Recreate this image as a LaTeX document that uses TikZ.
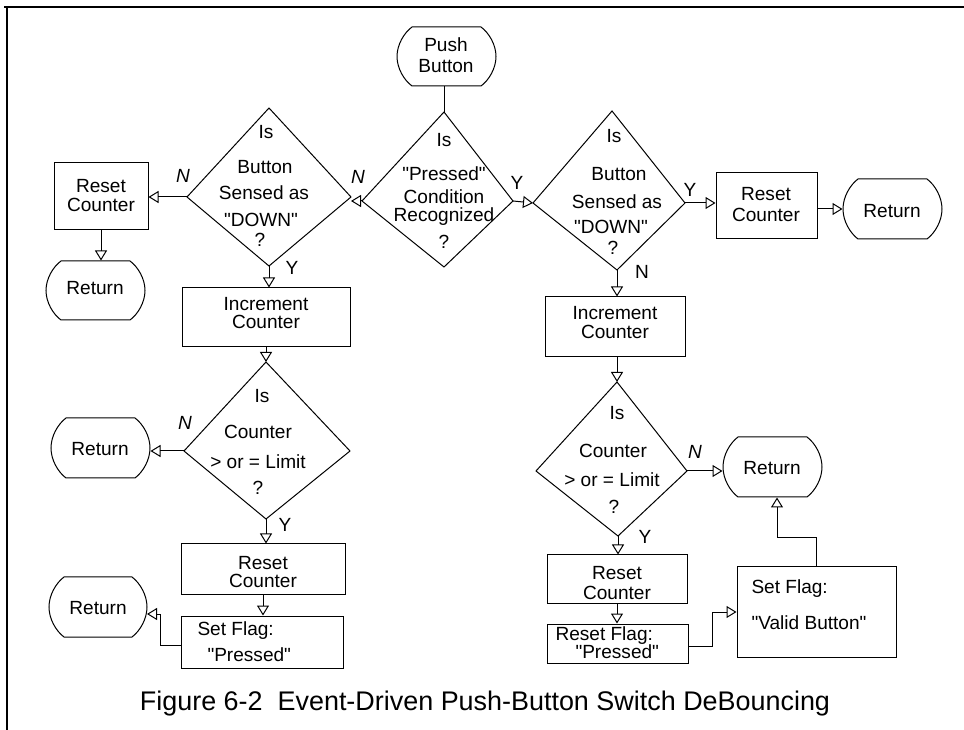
\documentclass[tikz,border=0pt]{standalone}
\usepackage{fontspec}
\setmainfont{Liberation Sans}[Ligatures=TeXOff]
\usetikzlibrary{arrows.meta,fit}
\newcounter{tline}
\newcommand\T[3]{\stepcounter{tline}\node[tl] (txt\arabic{tline}) at (#1,#2) {#3};}
\newcommand\TW[3]{\stepcounter{tline}\node[tl,anchor=west] (txt\arabic{tline}) at (#1,#2) {#3};}
\newcommand\kite[5]{% name, top, right, bottom, left
  \coordinate (#1t) at (#2); \coordinate (#1r) at (#3);
  \coordinate (#1b) at (#4); \coordinate (#1l) at (#5);
  \draw (#1t) -- (#1r) -- (#1b) -- (#1l) -- cycle;}
\newcommand\term[5]{% name, x1, y1, x2, y2
  \node[fit={(#2,#3) (#4,#5)}, inner sep=0pt] (#1) {};
  \draw ({#2+15},#3) -- ({#4-15},#3)
    .. controls ({#4-7},{#3+0.1*(#5-#3)}) and (#4,{#3+0.3*(#5-#3)}) .. (#4,{(#3+#5)/2})
    .. controls (#4,{#5-0.3*(#5-#3)}) and ({#4-7},{#5-0.1*(#5-#3)}) .. ({#4-15},#5)
    -- ({#2+15},#5)
    .. controls ({#2+7},{#5-0.1*(#5-#3)}) and (#2,{#5-0.3*(#5-#3)}) .. (#2,{(#3+#5)/2})
    .. controls (#2,{#3+0.3*(#5-#3)}) and ({#2+7},{#3+0.1*(#5-#3)}) .. ({#2+15},#3) -- cycle;}
\begin{document}
\begin{tikzpicture}[x=0.75pt,y=-0.75pt,line width=0.75pt,
  every node/.style={font=\fontsize{14.3}{17}\selectfont},
  tl/.style={inner sep=0pt,text height=10.2pt,text depth=0pt},
  nlab/.style={tl,font=\fontsize{14.3}{17}\selectfont\itshape},
  box/.style={draw,inner sep=0pt},
  arr/.style={-{Triangle[open,length=7.5pt,width=9pt]}}]
\useasboundingbox (0,0) rectangle (964,730);
% frame
\draw[line width=1.5pt] (4,7) -- (964,7);
\draw[line width=1.1pt] (7,7) -- (7,730);

% terminals
\term{PB}{397}{27}{496}{86}
\T{446}{45}{Push}\T{446}{66}{Button}
\term{RetTL}{46}{261}{145}{320}
\T{95}{288}{Return}
\term{RetTR}{843}{179}{942}{239}
\T{892}{211}{Return}
\term{RetML}{51}{418}{150}{478}
\T{100}{449}{Return}
\term{RetMR}{723}{437}{822}{497}
\T{772}{468}{Return}
\term{RetBL}{49}{577}{147}{637}
\T{98}{608}{Return}

% diamonds
\kite{D0}{444,112}{513,201}{444,267}{362,201}
\T{444}{140}{Is}\T{444}{174}{"Pressed"}\T{444}{197}{Condition}\T{444}{215}{Recognized}\T{444}{242}{?}
\kite{DL1}{269,108}{351,197}{269,266}{187,197}
\T{266}{132}{Is}\T{265}{167}{Button}\T{264}{193}{Sensed as}\T{261}{220}{"DOWN"}\T{260}{240}{?}
\kite{DR1}{612,111}{685,203}{617,270}{533,203}
\T{614}{136}{Is}\T{619}{174}{Button}\T{617}{202}{Sensed as}\T{611}{227}{"DOWN"}\T{613}{248}{?}
\kite{DL2}{266,362}{350,451}{266,519}{184,451}
\T{262}{396}{Is}\T{258}{432}{Counter}\T{258}{462}{> or = Limit}\T{258}{488}{?}
\kite{DR2}{617,382}{687,471}{618,536}{536,471}
\T{617}{413}{Is}\T{613}{451}{Counter}\T{612}{480}{> or = Limit}\T{614}{507}{?}

% boxes
\node[box,fit={(54,163) (148,230)}] (RC1) {};
\T{101}{186}{Reset}\T{101}{205}{Counter}
\node[box,fit={(716,173) (817,239)}] (RC2) {};
\T{766}{194}{Reset}\T{766}{215}{Counter}
\node[box,fit={(182,288) (350,347)}] (IC1) {};
\T{266}{304}{Increment}\T{266}{322}{Counter}
\node[box,fit={(545,297) (685,357)}] (IC2) {};
\T{615}{313}{Increment}\T{615}{332}{Counter}
\node[box,fit={(181,544) (345,594)}] (RC3) {};
\T{263}{563}{Reset}\T{263}{581}{Counter}
\node[box,fit={(181,616) (343,668)}] (SF1) {};
\TW{197}{629}{Set Flag:}\TW{207}{655}{"Pressed"}
\node[box,fit={(547,555) (687,603)}] (RC4) {};
\T{617}{573}{Reset}\T{617}{593}{Counter}
\node[box,fit={(547,624) (688,663)}] (RF) {};
\TW{555}{634}{Reset Flag:}\TW{575}{652}{"Pressed"}
\node[box,fit={(737,567) (896,657)}] (SF2) {};
\TW{751}{587}{Set Flag:}\TW{751}{623}{"Valid Button"}

% labels
\node[tl] (lY0) at (517,183) {Y};
\node[nlab] (lN0) at (358,177) {N};
\node[nlab] (lN1) at (183,176) {N};
\node[tl] (lY1) at (292,268) {Y};
\node[tl] (lY2) at (690,190) {Y};
\node[tl] (lN2) at (642,272) {N};
\node[nlab] (lN3) at (185,423) {N};
\node[tl] (lY3) at (285,525) {Y};
\node[nlab] (lN4) at (695,452) {N};
\node[tl] (lY4) at (645,537) {Y};

% connectors
\draw (PB.south -| D0t) -- (D0t);
\draw[arr] (D0r) -- (DR1l);
\draw[arr] (D0l) -- (D0l -| DL1r);
\draw[arr] (DL1l) -- (DL1l -| RC1.east);
\draw[arr] (RC1.south) -- (RC1.south |- RetTL.north);
\draw[arr] (DL1b) -- (DL1b |- IC1.north);
\draw[arr] (IC1.south) -- (DL2t);
\draw[arr] (DL2l) -- (DL2l -| RetML.east);
\draw[arr] (DL2b) -- (DL2b |- RC3.north);
\draw[arr] (RC3.south) -- (RC3.south |- SF1.north);
\coordinate (c1) at (160,645);
\draw[arr] (c1 -| SF1.west) -- (c1) |- (147,614);
\draw[arr] (DR1r) -- (DR1r -| RC2.west);
\draw[arr] (RC2.east |- RetTR) -- (RetTR.west);
\draw[arr] (DR1b) -- (DR1b |- IC2.north);
\draw[arr] (IC2.south -| DR2t) -- (DR2t);
\draw[arr] (DR2r) -- (DR2r -| RetMR.west);
\draw[arr] (DR2b) -- (DR2b |- RC4.north);
\draw[arr] (RC4.south) -- (RC4.south |- RF.north);
\coordinate (c2) at (712,646);
\coordinate (c3) at (712,612);
\draw[arr] (c2 -| RF.east) -- (c2) -- (c3) -- (c3 -| SF2.west);
\coordinate (c4) at (816,538);
\coordinate (c5) at (777,538);
\draw[arr] (c4 |- SF2.north) -- (c4) -- (c5) -- (c5 |- RetMR.south);

% caption
\node[font=\fontsize{20.2}{24}\selectfont,inner sep=0pt,text height=14.5pt,text depth=0pt] (cap) at (485,701) {Figure 6-2\ \ Event-Driven Push-Button Switch DeBouncing};
\end{tikzpicture}
\end{document}
